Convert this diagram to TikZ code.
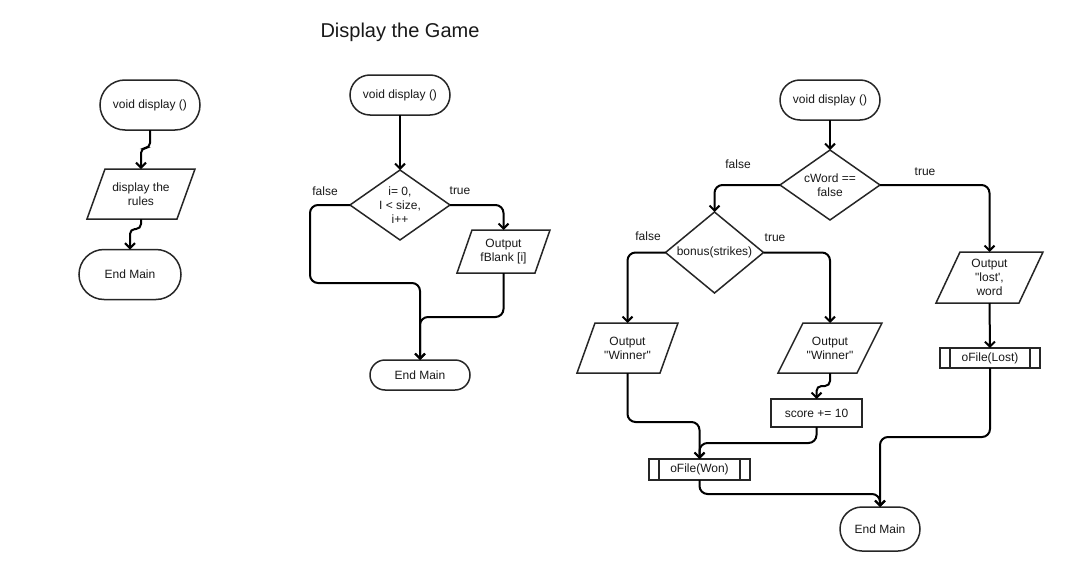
\documentclass[tikz,border=0pt]{standalone}
\usepackage{fontspec}
\setmainfont{Liberation Sans}[Ligatures=TeXOff]
\usetikzlibrary{arrows.meta}
\tikzset{
  base/.style={inner sep=0pt, outer sep=0pt, align=center, font=\fontsize{12}{14}\selectfont, text=black!90},
  term/.style={base, draw=black!85, line width=1.5pt},
  hid/.style={base, draw=none},
  boxed/.style={base, draw=black!85, line width=1.5pt},
  shp/.style={draw=black!85, line width=1.5pt, line join=miter},
  arr/.style={draw=black, line width=2pt, rounded corners=8pt, -{Straight Barb[length=5pt,width=10pt]}},
  lbl/.style={base}
}
\newcommand\fcpara[2]{\draw[shp] ([xshift=#2pt]#1.north west) -- (#1.north east) -- ([xshift=-#2pt]#1.south east) -- (#1.south west) -- cycle;}
\newcommand\fcdiam[1]{\draw[shp] (#1.north) -- (#1.east) -- (#1.south) -- (#1.west) -- cycle;}
\newcommand\fcsub[1]{\draw[shp] ([xshift=10pt]#1.north west) -- ([xshift=10pt]#1.south west) ([xshift=-10pt]#1.north east) -- ([xshift=-10pt]#1.south east);}
\begin{document}
\begin{tikzpicture}[x=1pt,y=-1pt]
\useasboundingbox[fill=white] (0,0) rectangle (1066,570);
\node[base, font=\fontsize{20}{24}\selectfont] (title) at (400,32) {Display the Game};

% Diagram 1
\node[term, minimum width=100pt, minimum height=50pt, rounded corners=25pt] (t1) at (150,105) {void display ()};
\node[hid, minimum width=108pt, minimum height=50pt] (p1) at (141,194) {display the\\rules};
\fcpara{p1}{18}
\node[term, minimum width=102pt, minimum height=50pt, rounded corners=25pt] (e1) at (130,274.5) {End Main};
\draw[arr, rounded corners=5pt] (t1.south) -- ++(0,18) -| (p1.north);
\draw[arr, rounded corners=5pt] (p1.south) -- ++(0,10) -| (e1.north);

% Diagram 2
\node[term, minimum width=100pt, minimum height=40pt, rounded corners=20pt] (t2) at (400,95) {void display ()};
\node[hid, minimum width=100pt, minimum height=70pt] (d2) at (400,205) {i= 0,\\I < size,\\i++};
\fcdiam{d2}
\node[hid, minimum width=93pt, minimum height=43pt] (p2) at (503.5,251.5) {Output\\fBlank [i]};
\fcpara{p2}{15}
\node[term, minimum width=100pt, minimum height=30pt, rounded corners=15pt] (e2) at (420,375) {End Main};
\draw[arr] (t2.south) -- (d2.north);
\draw[arr] (d2.east) -| (p2.north);
\draw[arr] (d2.west) -| (310,283) -| (e2.north);
\draw[arr] (p2.south) -- ++(0,44) -| (e2.north);
\node[lbl] (f2) at (325,191) {false};
\node[lbl] (tr2) at (460,191) {true};

% Diagram 3
\node[term, minimum width=100pt, minimum height=40pt, rounded corners=20pt] (t3) at (830,100) {void display ()};
\node[hid, minimum width=100pt, minimum height=70pt] (d3) at (830,185) {cWord ==\\false};
\fcdiam{d3}
\node[hid, minimum width=98pt, minimum height=81pt] (d4) at (714.5,252.5) {bonus(strikes)};
\fcdiam{d4}
\node[hid, minimum width=101pt, minimum height=50pt] (p4) at (627.5,348) {Output\\"Winner"};
\fcpara{p4}{18}
\node[hid, minimum width=104pt, minimum height=50pt] (p5) at (830,348) {Output\\"Winner"};
\fcpara{p5}{25}
\node[boxed, minimum width=91pt, minimum height=28pt] (s1) at (816.5,413) {score += 10};
\node[boxed, minimum width=101pt, minimum height=21pt] (w1) at (699.5,469.5) {oFile(Won)};
\fcsub{w1}
\node[hid, minimum width=107pt, minimum height=51pt] (p3) at (989.5,277.5) {Output\\"lost',\\word};
\fcpara{p3}{24}
\node[boxed, minimum width=100pt, minimum height=20pt] (l1) at (990,358) {oFile(Lost)};
\fcsub{l1}
\node[term, minimum width=80pt, minimum height=44pt, rounded corners=22pt] (e3) at (880,529) {End Main};

\draw[arr] (t3.south) -- (d3.north);
\draw[arr] (d3.east) -| (p3.north);
\draw[arr] (d3.west) -| (d4.north);
\draw[arr] (d4.west) -| (p4.north);
\draw[arr] (d4.east) -| (p5.north);
\draw[arr, rounded corners=5pt] (p5.south) -- ++(0,13) -| (s1.north);
\draw[arr] (s1.south) -- ++(0,16) -| (w1.north);
\draw[arr] (p4.south) -- ++(0,49) -| (w1.north);
\draw[arr] (w1.south) -- ++(0,14) -| (e3.north);
\draw[arr] (p3.south) -- (l1.north);
\draw[arr] (l1.south) -- ++(0,69) -| (e3.north);

\node[lbl] (f3) at (738,164) {false};
\node[lbl] (tr3) at (925,172) {true};
\node[lbl] (f4) at (648,236) {false};
\node[lbl] (tr4) at (775,238) {true};
\end{tikzpicture}
\end{document}
